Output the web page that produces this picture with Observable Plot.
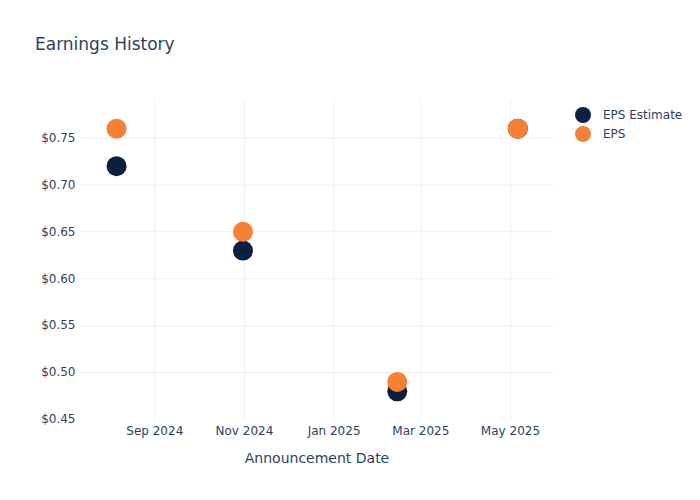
<!DOCTYPE html>
<html><head><meta charset="utf-8">
<script src="https://cdn.jsdelivr.net/npm/d3@7"></script>
<script src="https://cdn.jsdelivr.net/npm/@observablehq/plot@0.6"></script>
<style>
body{margin:0;background:#fff;font-family:"DejaVu Sans",sans-serif;}
#wrap{position:relative;width:700px;height:500px;}
#wrap svg{position:absolute;left:0;top:0;}
#title{position:absolute;left:35px;top:34px;font-size:17px;line-height:20px;color:#2a3f5f;z-index:2;}
#legend{position:absolute;left:575px;top:105.5px;font-size:12px;color:#2a3f5f;z-index:2;}
.item{display:flex;align-items:center;height:19px;line-height:19px;}
.sw{width:16px;height:16px;border-radius:50%;margin-right:12px;}
</style></head><body>
<div id="wrap"><div id="title">Earnings History</div><div id="legend"></div></div>
<script>
const dates = ["2024-08-06","2024-10-31","2025-02-13","2025-05-06"];
const epsEstimate = [0.72, 0.63, 0.48, 0.76];
const eps = [0.76, 0.65, 0.49, 0.76];
const seriesNames = ["EPS Estimate", "EPS"];
const seriesColors = ["#0b1f41", "#f68135"];
const xTicks = ["2024-09-01","2024-11-01","2025-01-01","2025-03-01","2025-05-01"];
const yTicks = [0.45, 0.50, 0.55, 0.60, 0.65, 0.70, 0.75];

const rows = [
  ...dates.map((d, i) => ({date: new Date(d), value: epsEstimate[i], series: seriesNames[0]})),
  ...dates.map((d, i) => ({date: new Date(d), value: eps[i], series: seriesNames[1]}))
];
const xt = xTicks.map(d => new Date(d));

const chart = Plot.plot({
  width: 700, height: 500,
  marginLeft: 80, marginRight: 147, marginTop: 100, marginBottom: 80,
  style: {fontFamily: "DejaVu Sans, sans-serif", fontSize: "12px", color: "#2a3f5f", background: "transparent"},
  x: {type: "utc", domain: [new Date("2024-07-12T11:00Z"), new Date("2025-05-30T07:00Z")]},
  y: {domain: [0.4489, 0.7900]},
  color: {domain: seriesNames, range: seriesColors},
  marks: [
    Plot.gridX(xt, {stroke: "#ebf0f8", strokeOpacity: 1}),
    Plot.gridY(yTicks.filter(v => v > 0.45), {stroke: "#ebf0f8", strokeOpacity: 1}),
    Plot.axisX(xt, {tickSize: 0, tickPadding: 6, tickFormat: d3.utcFormat("%b %Y"),
      label: "Announcement Date", labelAnchor: "center", labelArrow: "none", labelOffset: 42, fontSize: 12}),
    Plot.axisY(yTicks, {tickSize: 0, tickPadding: 5, tickFormat: v => "$" + v.toFixed(2), label: null}),
    Plot.dot(rows, {x: "date", y: "value", fill: "series", r: 10})
  ]
});
chart.querySelectorAll("g[aria-label='x-axis label'] text").forEach(t => t.setAttribute("font-size", "14"));
document.getElementById("wrap").appendChild(chart);

const legend = document.getElementById("legend");
seriesNames.forEach((n, i) => {
  const it = document.createElement("div"); it.className = "item";
  const sw = document.createElement("div"); sw.className = "sw"; sw.style.background = seriesColors[i];
  const tx = document.createElement("span"); tx.textContent = n;
  it.appendChild(sw); it.appendChild(tx); legend.appendChild(it);
});
</script></body></html>
